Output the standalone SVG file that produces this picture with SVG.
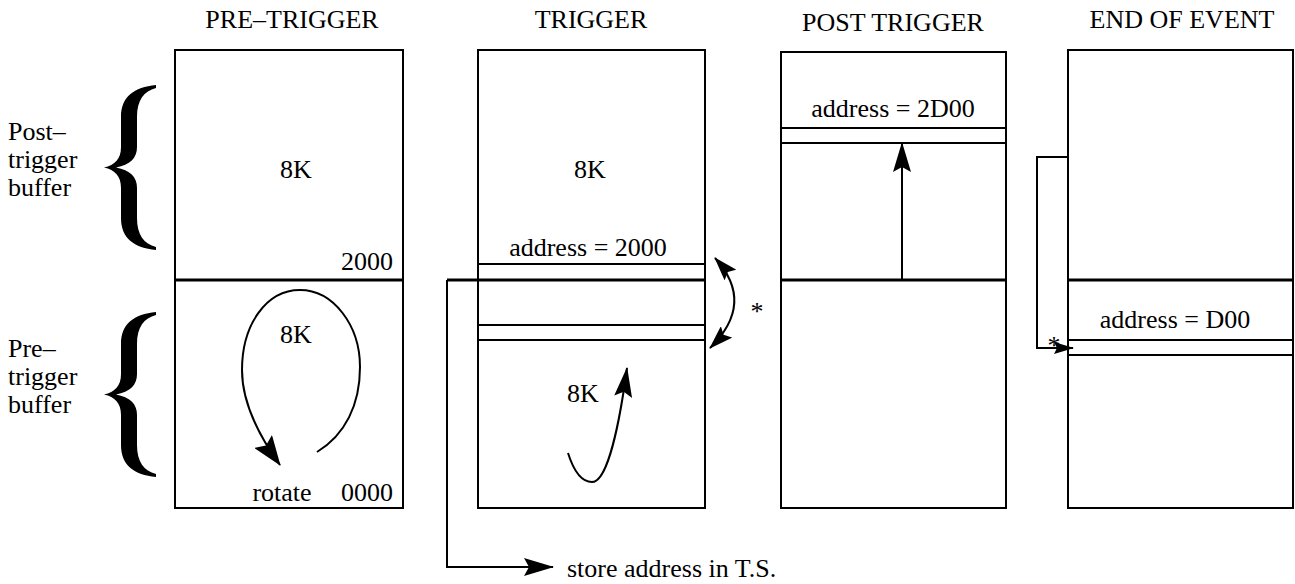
<svg xmlns="http://www.w3.org/2000/svg" width="1295" height="584" viewBox="0 0 1295 584" font-family="'Liberation Serif', 'Times New Roman', 'DejaVu Serif', serif">
<style>
text{font-family:'Liberation Serif','Times New Roman','DejaVu Serif',serif;font-size:26px;fill:#000}
.m{text-anchor:middle}
.e{text-anchor:end}
.box{fill:none;stroke:#000;stroke-width:2}
.thk{stroke:#000;stroke-width:3;fill:none}
.thn{stroke:#000;stroke-width:2;fill:none}
.con{stroke:#000;stroke-width:2;fill:none}
.brace{fill:#000}
</style>
<defs>
<marker id="big" markerUnits="userSpaceOnUse" viewBox="0 0 30 18" refX="29" refY="9" markerWidth="30" markerHeight="18" orient="auto"><path d="M0,0 L30,9 L0,18 L5,9 Z" fill="#000"/></marker>
<marker id="wide" markerUnits="userSpaceOnUse" viewBox="0 0 30 22" refX="29" refY="11" markerWidth="30" markerHeight="22" orient="auto"><path d="M0,0 L30,11 L0,22 L5,11 Z" fill="#000"/></marker>
<marker id="mid" markerUnits="userSpaceOnUse" viewBox="0 0 24 16" refX="23" refY="8" markerWidth="24" markerHeight="16" orient="auto-start-reverse"><path d="M0,0 L24,8 L0,16 L4,8 Z" fill="#000"/></marker>
<marker id="sml" markerUnits="userSpaceOnUse" viewBox="0 0 20 12" refX="19" refY="6" markerWidth="20" markerHeight="12" orient="auto"><path d="M0,0 L20,6 L0,12 L3,6 Z" fill="#000"/></marker>
<path id="br" d="M52,0 C30,2 17,12 17,32 L17,62 C17,74 11,80 0,82.5 C11,85 17,91 17,103 L17,133 C17,153 30,163 52,165 L52,162 C40,159 33,150 33,133 L33,103 C33,92 26,85 12,82.5 C26,80 33,73 33,62 L33,32 C33,15 40,6 52,3 Z"/>
</defs>

<g id="side-labels">
<text x="8" y="140">Post–</text>
<text x="8" y="168">trigger</text>
<text x="8" y="196">buffer</text>
<use href="#br" class="brace" transform="translate(104,85)"/>
<text x="8" y="357">Pre–</text>
<text x="8" y="385">trigger</text>
<text x="8" y="413">buffer</text>
<use href="#br" class="brace" transform="translate(104,312)"/>
</g>

<g id="pre-trigger">
<text class="m" x="292" y="28">PRE–TRIGGER</text>
<rect class="box" x="175" y="50" width="228" height="458"/>
<line class="thk" x1="175" y1="280" x2="403" y2="280"/>
<text class="m" x="296" y="178">8K</text>
<text class="e" x="393" y="270">2000</text>
<text class="m" x="296" y="343">8K</text>
<text class="m" x="282" y="501">rotate</text>
<text class="e" x="393" y="501">0000</text>
</g>

<g id="trigger">
<text class="m" x="591" y="28">TRIGGER</text>
<rect class="box" x="478" y="50" width="227" height="458"/>
<line class="thn" x1="478" y1="264" x2="705" y2="264"/>
<line class="thk" x1="478" y1="280" x2="705" y2="280"/>
<line class="thn" x1="478" y1="325" x2="705" y2="325"/>
<line class="thn" x1="478" y1="340" x2="705" y2="340"/>
<text class="m" x="590" y="178">8K</text>
<text class="m" x="588" y="256">address = 2000</text>
<text class="m" x="583" y="402">8K</text>
<text class="m" x="757" y="320">*</text>
</g>

<g id="post-trigger">
<text class="m" x="893" y="31">POST TRIGGER</text>
<rect class="box" x="781" y="52" width="225" height="456"/>
<line class="thn" x1="781" y1="128" x2="1006" y2="128"/>
<line class="thn" x1="781" y1="143" x2="1006" y2="143"/>
<line class="thk" x1="781" y1="280" x2="1006" y2="280"/>
<text class="m" x="893" y="117">address = 2D00</text>
</g>

<g id="end-of-event">
<text class="m" x="1182" y="28">END OF EVENT</text>
<rect class="box" x="1068" y="50" width="225" height="458"/>
<line class="thk" x1="1068" y1="280" x2="1293" y2="280"/>
<line class="thn" x1="1068" y1="340" x2="1293" y2="340"/>
<line class="thn" x1="1068" y1="355" x2="1293" y2="355"/>
<text class="m" x="1175" y="328">address = D00</text>
<text class="m" x="1054" y="354">*</text>
</g>

<g id="store-label">
<text x="567" y="577">store address in T.S.</text>
</g>

<g id="connectors">
<path class="con" d="M317,452 C345,435 360,405 360,367 C360,325 333,290 300,290 C266,290 242,325 242,370 C242,405 262,440 280,465" marker-end="url(#wide)"/>
<path class="con" d="M568,453 C574,472 582,482 592,482 C608,482 620,420 627,368" marker-end="url(#big)"/>
<path class="con" d="M715,258 Q756,303 710,348" marker-start="url(#mid)" marker-end="url(#mid)"/>
<path class="thk" d="M478,280 L447,280"/>
<path class="con" d="M447,280 L447,567 L553,567" marker-end="url(#big)"/>
<path class="con" d="M902,280 L902,143" marker-end="url(#big)"/>
<path class="con" d="M1068,157 L1037,157 L1037,348 L1073,348" marker-end="url(#sml)"/>
</g>
</svg>
